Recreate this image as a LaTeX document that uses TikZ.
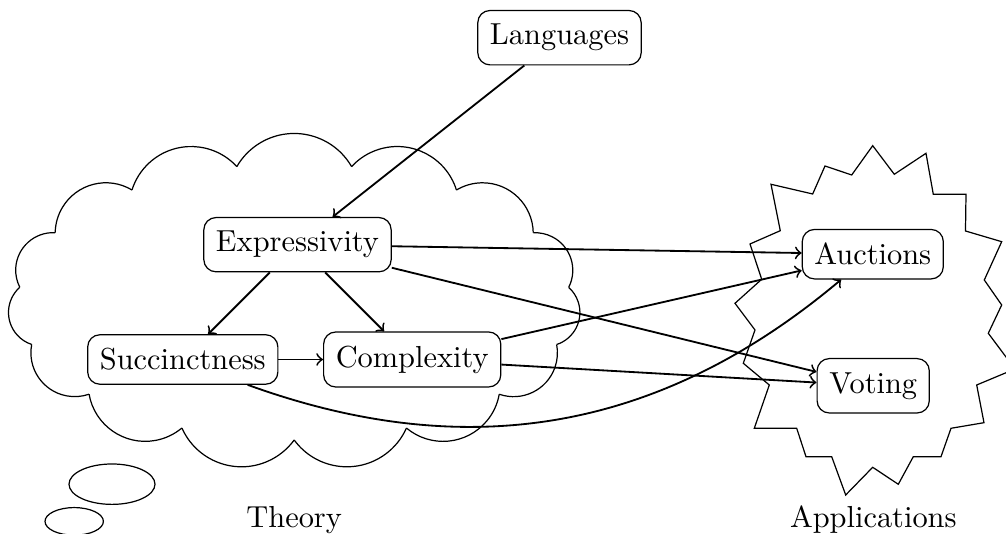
\documentclass[tikz,border=0pt]{standalone}
\usetikzlibrary{arrows}
\begin{document}
\begin{tikzpicture}[x=0.32895pt,y=0.32895pt,
  box/.style={draw, rounded corners=4pt, inner xsep=4pt, inner ysep=4.5pt},
  arr/.style={->, semithick},
  outline/.style={line join=miter}]
\useasboundingbox (0,0) rectangle (1006,534);

% nodes
\node[box] (lang) at (559.5,496.3) {Languages};
\node[box] (expr) at (297.5,289.3) {Expressivity};
\node[box] (succ) at (182.8,174.5) {Succinctness};
\node[box] (comp) at (412.2,174.5) {Complexity};
\node[box] (auct) at (872.8,279.8) {Auctions};
\node[box] (vot)  at (873.2,148.2) {Voting};

% cloud (theory)
\foreach \k in {0,...,14}{
  \pgfmathsetmacro\pa{78+24*\k}
  \pgfmathsetmacro\pb{\pa+24}
  \pgfmathsetmacro\xa{294.2+276*cos(\pa)}
  \pgfmathsetmacro\ya{232.2+138.2*sin(\pa)}
  \pgfmathsetmacro\xb{294.2+276*cos(\pb)}
  \pgfmathsetmacro\yb{232.2+138.2*sin(\pb)}
  \pgfmathsetmacro\dd{atan2(\yb-\ya,\xb-\xa)}
  \pgfmathsetmacro\rr{veclen(\xb-\xa,\yb-\ya)/sqrt(3)}
  \draw (\xa,\ya) arc[start angle=\dd-150, end angle=\dd-30, radius=\rr];
}
\draw (112,49.8) ellipse[x radius=43, y radius=20.2];
\draw (74.2,12.6) ellipse[x radius=29.2, y radius=13.8];
\node[anchor=base] (theory) at (294.2,6.6) {Theory};

% starburst (applications)
\draw[outline] (872.7,388.3) -- (894.3,359.7) -- (926,380.7) -- (933.3,339.7)
  -- (966,339.7) -- (965.5,303) -- (1001.7,292.3) -- (984.3,254)
  -- (1001.7,229) -- (988.3,200.7) -- (1015,165) -- (976.7,149)
  -- (984,111.3) -- (951,105.7) -- (941,77.3) -- (913.3,77.3)
  -- (898.3,49.7) -- (872.7,66.7) -- (845.7,39) -- (831.7,77.3)
  -- (806,77.3) -- (796.7,105.7) -- (754.3,105.7) -- (769.3,149)
  -- (743.3,170.7) -- (755,204) -- (735,230.7) -- (761.7,254.7)
  -- (750,290) -- (780.3,303.3) -- (771,349.7) -- (812.7,340)
  -- (825,368) -- (851.7,359) -- cycle;
\node[anchor=base] (apps) at (873.3,6.6) {Applications};

% connectors
\draw[arr] (lang) -- (expr);
\draw[arr] (expr) -- (succ);
\draw[arr] (expr) -- (comp);
\draw[arr] (succ) -- (comp);
\draw[arr] (expr) -- (auct);
\draw[arr] (expr) -- (vot);
\draw[arr] (comp) -- (auct);
\draw[arr] (comp) -- (vot);
\draw[arr] (succ) to[bend right=30] (auct);
\end{tikzpicture}
\end{document}
